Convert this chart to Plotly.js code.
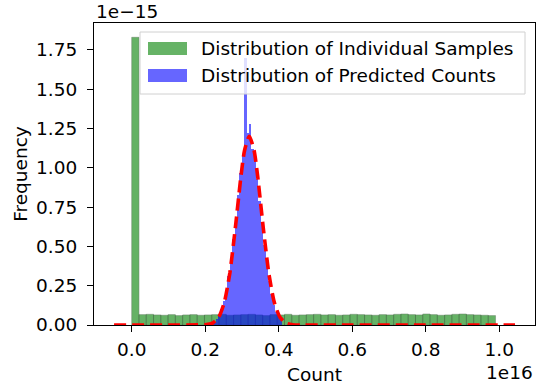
<!DOCTYPE html>
<html>
<head>
<meta charset="utf-8">
<script src="https://cdn.plot.ly/plotly-3.0.1.min.js"></script>
<style>html,body{margin:0;padding:0;background:#fff;}#chart{width:545px;height:385px;}</style>
</head>
<body>
<div id="chart"></div>
<script>
// Units: x in 1e16, y in 1e-15
const greenStart = 0.0;
const greenBinWidth = 0.0198;
const greenHeights = [1.83,
  0.066, 0.068, 0.064, 0.062, 0.066, 0.060, 0.064, 0.066, 0.062, 0.064,
  0.066, 0.068, 0.062, 0.064, 0.066, 0.068, 0.064, 0.060, 0.066, 0.064,
  0.068, 0.062, 0.064, 0.066, 0.068, 0.064, 0.066, 0.062, 0.064, 0.068,
  0.066, 0.064, 0.062, 0.066, 0.064, 0.068, 0.070, 0.066, 0.064, 0.070,
  0.066, 0.062, 0.064, 0.068, 0.070, 0.066, 0.064, 0.062, 0.060];

const blueStart = 0.215;
const blueBinWidth = 0.0065;
const blueHeights = [0.02, 0.022, 0.038, 0.063, 0.10, 0.15, 0.22, 0.31, 0.42, 0.55,
  0.69, 0.83, 0.97, 1.08, 1.70, 1.22, 1.28, 1.12, 1.05, 0.93,
  0.79, 0.64, 0.51, 0.38, 0.28, 0.20, 0.13, 0.085, 0.054, 0.03];

const fitX = [-0.048, 0.10, 0.18, 0.20, 0.22, 0.237, 0.252, 0.267, 0.282, 0.297, 0.307, 0.32,
  0.333, 0.343, 0.358, 0.373, 0.388, 0.403, 0.42, 0.438, 0.46, 0.60, 0.80, 1.043];
const fitY = [0, 0, 0.0005, 0.002, 0.012, 0.051, 0.144, 0.33, 0.618, 0.941, 1.11, 1.20,
  1.11, 0.941, 0.618, 0.33, 0.144, 0.051, 0.012, 0.002, 0.0002, 0, 0, 0];

const legendLabels = ["Distribution of Individual Samples", "Distribution of Predicted Counts"];

function centers(start, w, n){ const c=[]; for(let i=0;i<n;i++) c.push(start + w*(i+0.5)); return c; }

const greenX = centers(greenStart, greenBinWidth, greenHeights.length);
const blueX = centers(blueStart, blueBinWidth, blueHeights.length);

const FONT = {family: "DejaVu Sans", size: 18.5, color: "#000"};

const traces = [
  {type: "bar", x: greenX, y: greenHeights, width: greenBinWidth, name: legendLabels[0],
   marker: {color: "rgb(0,128,0)", opacity: 0.6, line: {color: "rgba(0,40,0,0.6)", width: 0.8}}},
  {type: "bar", x: blueX, y: blueHeights, width: blueBinWidth, name: legendLabels[1],
   marker: {color: "rgb(0,0,255)", opacity: 0.6, line: {width: 0}}},
  {type: "scatter", mode: "lines", x: fitX, y: fitY, showlegend: false,
   line: {color: "rgb(255,0,0)", width: 3.6, dash: "12px,6px", shape: "spline", smoothing: 0.6}}
];

// legend drawn in pixel-like paper coordinates
const L = 94, R = 535, T = 23, B = 325;
const px = v => (v - L) / (R - L);
const py = v => (B - v) / (B - T);

const shapes = [
  {type: "rect", xref: "paper", yref: "paper", x0: px(140), x1: px(525), y0: py(94), y1: py(32),
   fillcolor: "rgba(255,255,255,0.8)", line: {color: "#d0d0d0", width: 1}},
  {type: "rect", xref: "paper", yref: "paper", x0: px(148), x1: px(187), y0: py(55), y1: py(42),
   fillcolor: "rgba(0,128,0,0.6)", line: {width: 0}},
  {type: "rect", xref: "paper", yref: "paper", x0: px(148), x1: px(187), y0: py(82), y1: py(69),
   fillcolor: "rgba(0,0,255,0.6)", line: {width: 0}}
];

const annotations = [
  {xref: "paper", yref: "paper", x: px(199), y: py(48.5), xanchor: "left", yanchor: "middle",
   text: legendLabels[0], showarrow: false, font: FONT},
  {xref: "paper", yref: "paper", x: px(199), y: py(75.5), xanchor: "left", yanchor: "middle",
   text: legendLabels[1], showarrow: false, font: FONT},
  {xref: "paper", yref: "paper", x: 0, y: py(11), xanchor: "left", yanchor: "middle",
   text: "1e\u221215", showarrow: false, font: FONT},
  {xref: "paper", yref: "paper", x: 1, y: py(372), xanchor: "right", yanchor: "middle",
   text: "1e16", showarrow: false, font: FONT}
];

const layout = {
  width: 545, height: 385,
  margin: {l: L, r: 545 - R, t: T, b: 385 - B, pad: 0},
  paper_bgcolor: "#fff", plot_bgcolor: "#fff",
  barmode: "overlay", bargap: 0,
  showlegend: false,
  font: FONT,
  xaxis: {range: [-0.1026, 1.0974], tickmode: "linear", tick0: 0, dtick: 0.2, tickformat: ".1f",
    ticks: "outside", ticklen: 6, tickwidth: 1, tickcolor: "#000", ticklabelstandoff: 2,
    showline: true, linecolor: "#000", linewidth: 1, mirror: true, showgrid: false, zeroline: false,
    tickfont: FONT, title: {text: "Count", font: FONT, standoff: 8}},
  yaxis: {range: [0, 1.921], tickmode: "linear", tick0: 0, dtick: 0.25, tickformat: ".2f",
    ticks: "outside", ticklen: 6, tickwidth: 1, tickcolor: "#000", ticklabelstandoff: 6,
    showline: true, linecolor: "#000", linewidth: 1, mirror: true, showgrid: false, zeroline: false,
    tickfont: FONT, title: {text: "Frequency", font: FONT, standoff: 3}},
  shapes: shapes,
  annotations: annotations
};

Plotly.newPlot("chart", traces, layout, {staticPlot: true, displayModeBar: false});
</script>
</body>
</html>
